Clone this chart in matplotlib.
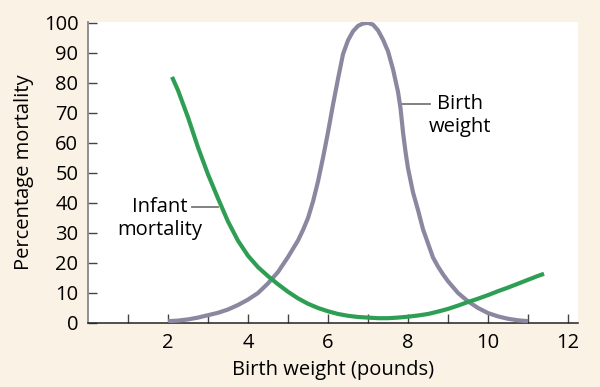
import numpy as np
import matplotlib.pyplot as plt

# birth weight distribution (grey curve)
bw_x = [2.0, 2.25, 2.5, 2.75, 3.0, 3.25, 3.5, 3.75, 4.0, 4.25, 4.5, 4.75,
        5.0, 5.25, 5.375, 5.5, 5.625, 5.75, 5.875, 6.0, 6.125, 6.25, 6.375,
        6.5, 6.625, 6.75, 6.875, 7.0, 7.125, 7.25, 7.375, 7.5, 7.625, 7.75,
        7.8125, 7.875, 7.9375, 8.0, 8.125, 8.25, 8.375, 8.5, 8.625, 8.75,
        8.875, 9.0, 9.25, 9.5, 9.75, 10.0, 10.25, 10.5, 10.75, 11.0]
bw_y = [0.6, 0.8, 1.2, 1.8, 2.6, 3.4, 4.5, 6.0, 7.8, 10.0, 13.2, 17.0,
        22.0, 27.5, 31.0, 35.0, 40.5, 47.2, 55.1, 63.6, 72.8, 81.4, 89.6,
        94.2, 97.2, 99.0, 99.8, 100.0, 99.4, 97.5, 94.4, 90.5, 84.5, 77.0,
        71.5, 63.5, 57.0, 51.5, 43.5, 37.6, 31.2, 26.5, 21.8, 18.8,
        16.2, 13.9, 10.0, 7.2, 5.0, 3.3, 2.2, 1.4, 0.9, 0.6]

# infant mortality (green curve)
im_x = [2.1, 2.25, 2.5, 2.75, 3.0, 3.25, 3.5, 3.75, 4.0, 4.25, 4.5, 4.75,
        5.0, 5.25, 5.5, 5.75, 6.0, 6.25, 6.5, 6.75, 7.0, 7.25, 7.5, 7.75,
        8.0, 8.25, 8.5, 8.75, 9.0, 9.25, 9.5, 9.75, 10.0, 10.25, 10.5, 10.75,
        11.0, 11.25, 11.4]
im_y = [82.0, 77.5, 68.5, 58.5, 49.5, 41.5, 33.8, 27.4, 22.4, 18.6, 15.6, 12.9,
        10.4, 8.2, 6.4, 5.0, 3.9, 3.0, 2.4, 2.0, 1.8, 1.6, 1.6, 1.8,
        2.1, 2.5, 3.0, 3.8, 4.7, 5.8, 7.0, 8.1, 9.3, 10.6, 11.8, 13.1,
        14.4, 15.7, 16.4]

yticks = [0, 10, 20, 30, 40, 50, 60, 70, 80, 90, 100]
xticks = [2, 4, 6, 8, 10, 12]
xminor = [1, 3, 5, 7, 9, 11]

plt.rcParams['font.family'] = ['Open Sans', 'DejaVu Sans']
fs = 14.5

fig = plt.figure(figsize=(6, 3.87), dpi=100)
fig.patch.set_facecolor('#fbf2e6')
ax = fig.add_axes([0.1467, 0.1654, 0.8167, 0.7778])
ax.set_facecolor('white')

ax.plot(bw_x, bw_y, color='#8a88a0', lw=3, solid_capstyle='butt', zorder=3)
ax.plot(im_x, im_y, color='#2f9e55', lw=3, solid_capstyle='butt', zorder=3)

ax.set_xlim(0, 12.25)
ax.set_ylim(0, 100.3)
ax.set_xticks(xticks)
ax.set_xticks(xminor, minor=True)
ax.set_yticks(yticks)

for s in ['top', 'right']:
    ax.spines[s].set_visible(False)
ax.spines['left'].set_color('#888888')
ax.spines['bottom'].set_color('#222222')
ax.spines['left'].set_linewidth(1.3)
ax.spines['bottom'].set_linewidth(1.1)

ax.tick_params(axis='both', which='both', direction='in', length=6.5,
               width=1, colors='#444444', labelcolor='black', labelsize=fs, pad=7)

ax.set_xlabel('Birth weight (pounds)', fontsize=fs, labelpad=5)
ax.set_ylabel('Percentage mortality', fontsize=fs, labelpad=7)

ax.text(1.8, 34.7, 'Infant\nmortality', ha='center', va='center',
        fontsize=fs, linespacing=1.2)
ax.plot([2.6, 3.25], [38.7, 38.7], color='#777777', lw=1.3)

ax.text(9.3, 69, 'Birth\nweight', ha='center', va='center',
        fontsize=fs, linespacing=1.2)
ax.plot([7.85, 8.55], [73, 73], color='#777777', lw=1.3)

plt.savefig('out.png', dpi=100, facecolor=fig.get_facecolor())
